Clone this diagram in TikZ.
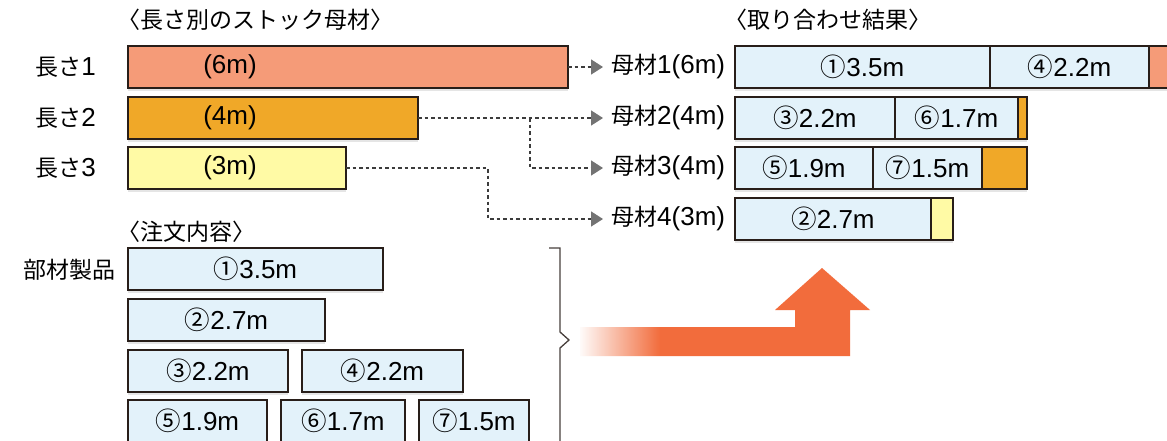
\documentclass[tikz,border=0pt]{standalone}
\usepackage{fontspec}
\setmainfont{Liberation Sans}
\newfontfamily\jpf{Noto Sans CJK JP}
\usetikzlibrary{arrows.meta,shadows,fadings}
\definecolor{cSalmon}{RGB}{245,155,120}
\definecolor{cOrange}{RGB}{240,168,40}
\definecolor{cYellow}{RGB}{255,250,165}
\definecolor{cBlue}{RGB}{227,242,250}
\definecolor{cEdge}{RGB}{40,30,25}
\definecolor{cDash}{RGB}{60,60,60}
\definecolor{cTip}{RGB}{115,115,115}
\definecolor{cArrow}{RGB}{242,108,60}
\newcommand\J[1]{{\fontsize{23}{25}\selectfont\jpf #1}}
\newcommand\C[1]{{\fontsize{25.5}{27}\selectfont\jpf #1}}
\begin{document}
\begin{tikzpicture}[x=1pt,y=-1pt,
  font=\fontsize{26}{28}\selectfont,
  bx/.style={draw=cEdge,line width=1.2pt,anchor=north west,minimum height=42pt,
    inner sep=0pt,outer sep=0pt,
    drop shadow={opacity=0.2,shadow xshift=0pt,shadow yshift=-3pt}},
  blue/.style={bx,fill=cBlue},
  txt/.style={inner sep=0pt,text=black},
  dl/.style={draw=cDash,line width=1.4pt,dash pattern=on 3.5pt off 3pt,
    -{Triangle[length=12pt,width=15pt,color=cTip]},shorten >=8pt},
  brk/.style={draw=cEdge!85,line width=1.3pt},
]
\fill[white] (0,0) rectangle (1167,440);
\useasboundingbox (0,0) rectangle (1167,440);

% titles
\node[txt,anchor=west] (h1) at (117,20) {\J{〈長さ別のストック母材〉}};
\node[txt,anchor=west] (h2) at (724,20) {\J{〈取り合わせ結果〉}};
\node[txt,anchor=west] (h3) at (117,232) {\J{〈注文内容〉}};

% stock bars
\node[bx,fill=cSalmon,minimum width=440pt] (s1) at (128,46) {};
\node[bx,fill=cOrange,minimum width=290pt] (s2) at (128,97) {};
\node[bx,fill=cYellow,minimum width=218pt] (s3) at (128,147) {};
\node[txt] (t1) at (230,67) {(6m)};
\node[txt] (t2) at (230,118) {(4m)};
\node[txt] (t3) at (230,168) {(3m)};
\node[txt,anchor=east] (l1) at (96,67) {\J{長さ}1};
\node[txt,anchor=east] (l2) at (96,118) {\J{長さ}2};
\node[txt,anchor=east] (l3) at (96,168) {\J{長さ}3};

% mother material labels
\node[txt,anchor=west] (m1) at (611,67) {\J{母材}1(6m)};
\node[txt,anchor=west] (m2) at (611,118) {\J{母材}2(4m)};
\node[txt,anchor=west] (m3) at (611,168) {\J{母材}3(4m)};
\node[txt,anchor=west] (m4) at (611,219) {\J{母材}4(3m)};

% connectors
\coordinate (b2) at (530,118);
\coordinate (b3) at (488,168);
\draw[dl] (s1.east) -- (m1.west);
\draw[dl] (s2.east) -- (m2.west);
\draw[dl] (b2) |- (m3.west);
\draw[dl] (s3.east) -- (b3) |- (m4.west);

% results
\node[blue,minimum width=255pt] (r1a) at (735,46) {\C{①}3.5m};
\node[blue,minimum width=159pt] (r1b) at (990,46) {\C{④}2.2m};
\node[bx,fill=cSalmon,minimum width=30pt] (r1c) at (1149,46) {};
\node[blue,minimum width=160pt] (r2a) at (735,97) {\C{③}2.2m};
\node[blue,minimum width=123pt] (r2b) at (895,97) {\C{⑥}1.7m};
\node[bx,fill=cOrange,minimum width=9pt] (r2c) at (1018,97) {};
\node[blue,minimum width=138pt] (r3a) at (735,147) {\C{⑤}1.9m};
\node[blue,minimum width=109pt] (r3b) at (873,147) {\C{⑦}1.5m};
\node[bx,fill=cOrange,minimum width=45pt] (r3c) at (982,147) {};
\node[blue,minimum width=196pt] (r4a) at (735,198) {\C{②}2.7m};
\node[bx,fill=cYellow,minimum width=22pt] (r4b) at (931,198) {};

% orders
\node[txt,anchor=east] (pl) at (116,270) {\J{部材製品}};
\node[blue,minimum width=255pt] (o1) at (128,248) {\C{①}3.5m};
\node[blue,minimum width=197pt] (o2) at (128,299) {\C{②}2.7m};
\node[blue,minimum width=160pt] (o3) at (128,350) {\C{③}2.2m};
\node[blue,minimum width=161pt] (o4) at (302,350) {\C{④}2.2m};
\node[blue,minimum width=139pt] (o5) at (128,400) {\C{⑤}1.9m};
\node[blue,minimum width=124pt] (o6) at (281,400) {\C{⑥}1.7m};
\node[blue,minimum width=110pt] (o7) at (419,400) {\C{⑦}1.5m};

% bracket
\draw[brk] (549,248) -- (560,248) -- (560,332) -- (569,340) -- (560,348) -- (560,442);

% big arrow
\fill[cArrow] (580,327) -- (795,327) -- (795,310) -- (775,310) -- (822,268)
  -- (870,310) -- (850,310) -- (850,356) -- (580,356) -- cycle;
\fill[white,path fading=east] (578,326) rectangle (660,357);
\end{tikzpicture}
\end{document}
